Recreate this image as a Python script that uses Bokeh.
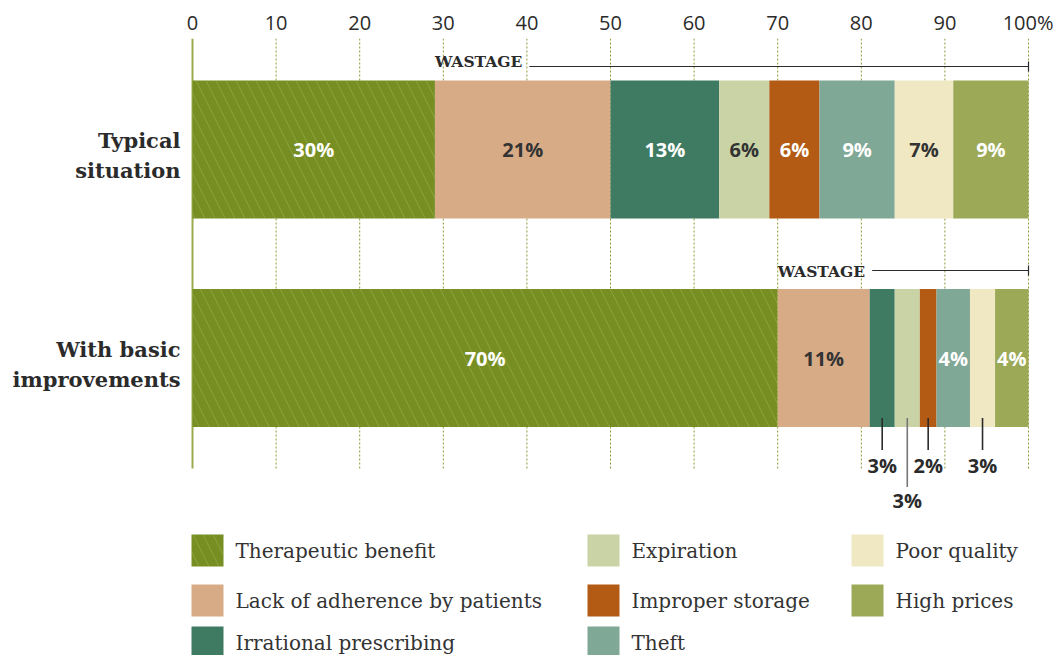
import numpy as np
from bokeh.plotting import figure
from bokeh.models import Range1d, FixedTicker, ColumnDataSource
from bokeh.core.properties import value
from bokeh.embed import file_html
from bokeh.resources import INLINE

# ---------------- data ----------------
categories = ["Typical\nsituation", "With basic\nimprovements"]
series = ["Therapeutic benefit", "Lack of adherence by patients", "Irrational prescribing",
          "Expiration", "Improper storage", "Theft", "Poor quality", "High prices"]
typical = [29, 21, 13, 6, 6, 9, 7, 9]
typical_labels = ["30%", "21%", "13%", "6%", "6%", "9%", "7%", "9%"]
improved = [70, 11, 3, 3, 2, 4, 3, 4]
improved_labels = ["70%", "11%", "3%", "3%", "2%", "4%", "3%", "4%"]
improved_callout = [False, False, True, True, True, False, True, False]   # label drawn below bar
improved_long = [False, False, False, True, False, False, False, False]   # lower callout
ticks = [0, 10, 20, 30, 40, 50, 60, 70, 80, 90, 100]
tick_labels = ["0", "10", "20", "30", "40", "50", "60", "70", "80", "90", "100%"]
wastage_text = "WASTAGE"

# ---------------- style ----------------
colors = ["#778f22", "#d8ab87", "#3f7b63", "#c9d3a6", "#b35b14", "#80a897", "#f0e7c3", "#9caa58"]
label_colors = ["white", "#333333", "white", "#333333", "white", "white", "#333333", "white"]
DARK = "#2b2b2b"
SANS = value("Open Sans")
SERIF = value("DejaVu Serif")

W, H = 1053, 655
PX = 8.36          # pixels per percent
X0 = 192           # canvas x of 0 %
FT = 38            # frame top (canvas)
x_start = -X0 / PX
x_end = x_start + W / PX

bar_y = [149, 357.5]
bar_h = 138
wastage_y = [61, 271]
wastage_line_y = [66, 270]
WASTE_GAP = 11.3   # offset from text start to line start (in %)
grid_top, grid_bottom = 38, 468

p = figure(width=W, height=H, output_backend="svg", toolbar_location=None,
           x_range=Range1d(x_start, x_end), y_range=Range1d(H, FT),
           x_axis_location="above", min_border_left=0, min_border_right=0,
           min_border_top=FT, min_border_bottom=0)
p.outline_line_color = None
p.grid.visible = False
p.yaxis.visible = False
ax = p.xaxis[0]
ax.ticker = FixedTicker(ticks=ticks)
ax.major_label_overrides = {t: l for t, l in zip(ticks, tick_labels)}
ax.axis_line_color = None
ax.major_tick_line_color = None
ax.minor_tick_line_color = None
ax.major_tick_out = 0
ax.major_tick_in = 0
ax.major_label_standoff = 3
ax.major_label_text_font = "Open Sans"
ax.major_label_text_font_size = "20px"
ax.major_label_text_color = "#2b2b2b"

# gridlines (dotted) and zero line
gx = ticks[1:]
p.segment(x0=gx, x1=gx, y0=[grid_top] * len(gx), y1=[grid_bottom] * len(gx),
          line_color="#8a9a34", line_width=1, line_dash="2 2")
p.segment(x0=[ticks[0]], x1=[ticks[0]], y0=[grid_top], y1=[grid_bottom],
          line_color="#9aab4d", line_width=2)

# ---------------- bars ----------------
rows = dict(left=[], right=[], y=[], color=[], label=[], lcolor=[], mid=[])
callouts = dict(x=[], y0=[], y1=[], ly=[], label=[], lc=[])
for bi, (vals, labs) in enumerate([(typical, typical_labels), (improved, improved_labels)]):
    rights = np.cumsum(vals)
    lefts = rights - np.array(vals)
    for i in range(len(vals)):
        rows["left"].append(lefts[i]); rows["right"].append(rights[i])
        rows["y"].append(bar_y[bi]); rows["color"].append(colors[i])
        mid = (lefts[i] + rights[i]) / 2
        rows["mid"].append(mid)
        if bi == 1 and improved_callout[i]:
            rows["label"].append("")
            long = improved_long[i]
            callouts["x"].append(mid)
            callouts["y0"].append(bar_y[bi] + bar_h / 2 - 9)
            callouts["y1"].append(bar_y[bi] + bar_h / 2 + (60 if long else 23))
            callouts["ly"].append(bar_y[bi] + bar_h / 2 + (73 if long else 38))
            callouts["label"].append(labs[i])
            callouts["lc"].append("#777777" if long else DARK)
        else:
            rows["label"].append(labs[i])
        rows["lcolor"].append(label_colors[i])

src = ColumnDataSource(rows)
p.hbar(y="y", left="left", right="right", height=bar_h, fill_color="color",
       line_color=None, source=src)
# hatch texture on therapeutic benefit
HATCH = dict(hatch_pattern="\\", hatch_color="#a9bc62", hatch_alpha=0.4,
             hatch_scale=20, hatch_weight=1)
th = ColumnDataSource(dict(y=bar_y, left=[0, 0], right=[typical[0], improved[0]]))
p.hbar(y="y", left="left", right="right", height=bar_h, fill_alpha=0, line_color=None,
       source=th, **HATCH)

p.text(x="mid", y="y", text="label", text_color="lcolor", text_font=SANS,
       text_font_style="bold", text_font_size="20px", text_align="center",
       text_baseline="middle", source=src)

# callouts
csrc = ColumnDataSource(callouts)
p.segment(x0="x", x1="x", y0="y0", y1="y1", line_color="lc", line_width=1.6, source=csrc)
p.text(x="x", y="ly", text="label", text_color=DARK, text_font=SANS, text_font_style="bold",
       text_font_size="20px", text_align="center", text_baseline="middle", source=csrc)

# wastage annotations
w_start = [typical[0], improved[0]]
p.text(x=w_start, y=wastage_y, text=[wastage_text] * 2, text_font=SERIF,
       text_font_style="bold", text_font_size="15.5px", text_color=DARK,
       text_baseline="middle", text_align="left")
ls = [w + WASTE_GAP for w in w_start]
p.segment(x0=ls, x1=[ticks[-1]] * 2, y0=wastage_line_y, y1=wastage_line_y,
          line_color=DARK, line_width=1.2)
p.segment(x0=[ticks[-1]] * 2, x1=[ticks[-1]] * 2, y0=[y - 5 for y in wastage_line_y],
          y1=[y + 5 for y in wastage_line_y], line_color=DARK, line_width=1.2)

# category labels
p.text(x=[-12 / PX] * 2, y=[y + 6 for y in bar_y], text=categories, text_font=SERIF,
       text_font_style="bold", text_font_size="21px", text_color=DARK,
       text_align="right", text_baseline="middle", text_line_height=1.2)

# ---------------- legend ----------------
col_x = [-1 / PX, 395 / PX, 659 / PX]       # left edge of squares (%), relative to 0
row_y = [550, 600, 642]
lx, ly, ltx = [], [], []
for i in range(len(series)):
    c, r = divmod(i, 3)
    lx.append(col_x[c] + 16 / PX)
    ly.append(row_y[r])
    ltx.append(col_x[c] + 44 / PX)
p.rect(x=lx, y=ly, width=32, height=32, width_units="screen", height_units="screen",
       fill_color=colors, line_color=None)
p.rect(x=lx[:1], y=ly[:1], width=32, height=32, width_units="screen", height_units="screen",
       fill_alpha=0, line_color=None, **HATCH)
p.text(x=ltx, y=ly, text=series, text_font=SERIF, text_font_size="20px",
       text_color="#333333", text_baseline="middle", text_align="left")

open("out.html", "w").write(file_html(p, INLINE))
